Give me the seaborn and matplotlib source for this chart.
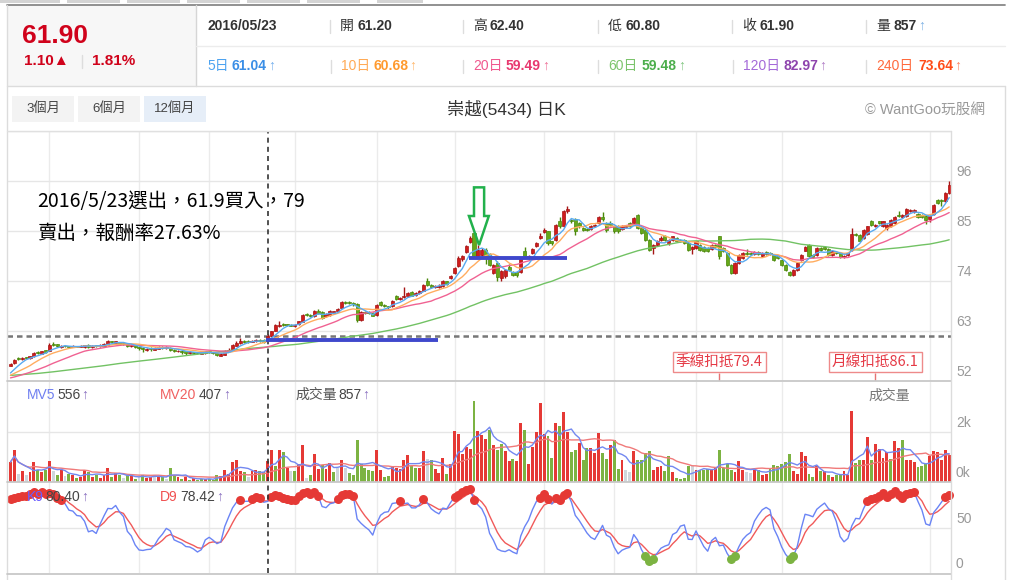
import numpy as np
import pandas as pd
import matplotlib
matplotlib.use("Agg")
import matplotlib.pyplot as plt
from matplotlib.lines import Line2D
from matplotlib.patches import Rectangle, Polygon
from matplotlib.transforms import offset_copy
import seaborn as sns

sns.set_theme(style="white")
plt.rcParams['font.family'] = ['Liberation Sans', 'Noto Sans CJK TC', 'DejaVu Sans']

W, H = 1010, 580

# ---- daily candles (left to right) ----
opens = [55.4,55.9,56.9,56.8,57.0,57.0,57.4,58.4,58.0,58.8,
         58.6,60.0,60.1,59.4,59.6,59.7,59.5,59.7,59.5,59.4,
         60.0,59.4,59.9,59.6,59.8,60.0,60.8,60.4,60.6,60.2,
         60.2,59.6,59.9,59.2,59.3,58.9,59.2,58.9,59.1,59.5,
         59.2,59.3,58.9,58.5,58.7,58.5,58.1,58.3,58.3,58.0,
         58.2,58.5,58.3,58.1,57.6,57.8,58.5,58.9,59.8,60.3,
         60.9,60.6,60.6,60.7,61.1,61.0,61.2,61.8,63.0,64.0,
         64.5,64.5,64.4,64.1,64.6,65.0,66.7,66.5,66.2,67.4,
         67.2,66.2,66.5,67.0,67.5,68.1,69.4,69.3,69.1,68.9,
         65.4,67.2,67.1,67.0,66.5,69.3,68.7,68.4,68.4,70.8,
         70.0,70.4,70.6,71.5,70.9,71.4,71.8,73.9,73.1,72.6,
         72.7,72.8,73.9,74.6,75.7,77.2,78.8,80.3,82.6,84.5,
         79.6,79.8,80.9,80.0,75.8,78.0,74.6,75.0,77.1,76.0,
         76.0,76.0,80.5,79.2,80.2,81.7,83.4,84.8,84.9,82.7,
         83.0,87.3,86.0,89.3,87.4,87.6,86.7,85.6,85.5,85.4,
         86.0,86.8,88.0,86.8,86.8,86.0,86.0,85.4,85.8,86.7,
         86.8,88.5,85.6,85.2,83.0,81.2,81.9,83.0,83.9,82.3,
         83.0,83.4,83.0,83.0,82.3,81.0,81.2,81.9,81.5,81.2,
         81.0,82.0,83.8,81.2,80.1,77.5,75.8,77.9,79.0,80.1,
         80.1,79.9,80.4,79.5,80.4,80.1,79.7,79.5,78.6,77.5,
         76.0,75.3,76.4,78.6,80.7,81.9,79.7,79.7,81.2,81.4,
         81.0,79.7,80.4,80.1,79.2,79.8,80.8,84.3,84.1,83.4,
         84.3,87.3,86.0,87.1,86.1,85.6,86.1,86.8,88.5,88.0,
         88.3,89.3,89.2,88.7,88.5,88.3,87.6,88.7,91.8,91.8,
         91.5,93.3]
closes = [55.8,56.6,56.9,57.1,57.0,57.4,58.2,58.1,58.5,58.4,
          60.0,60.0,59.6,59.7,59.6,59.4,59.7,59.5,59.8,59.9,
          59.5,59.7,59.6,59.9,60.2,60.8,60.5,60.7,60.2,60.2,
          59.7,59.9,59.4,59.2,59.0,59.1,59.0,59.2,59.4,59.3,
          59.4,58.9,58.6,58.7,58.4,58.2,58.3,58.2,58.1,58.3,
          58.5,58.3,58.1,57.8,57.9,58.6,58.9,59.9,60.4,60.8,
          60.5,60.6,60.9,61.0,60.8,60.6,61.9,62.9,64.3,64.4,
          64.3,64.3,64.2,64.4,65.1,66.5,66.5,66.4,67.4,67.0,
          65.9,66.7,67.4,67.3,67.8,69.3,69.2,69.1,68.9,65.4,
          67.1,67.0,66.9,66.4,68.7,68.8,68.4,68.2,69.6,70.0,
          70.3,70.7,71.3,70.8,71.3,71.8,73.1,73.1,72.6,72.9,
          73.0,74.0,73.4,75.1,76.8,79.0,79.4,81.6,83.5,79.4,
          80.8,80.9,79.6,77.6,77.5,74.8,76.2,76.4,76.4,75.3,
          75.3,79.0,79.4,79.5,81.0,82.3,83.9,85.2,82.3,82.3,
          86.3,86.0,89.5,89.8,87.1,84.9,86.0,85.2,85.2,86.1,
          86.3,88.0,87.6,85.2,86.3,84.9,84.9,86.1,86.0,86.0,
          87.8,85.6,84.6,83.0,80.8,81.9,82.9,83.4,83.0,83.0,
          83.8,82.7,82.7,82.3,80.8,81.5,82.7,80.8,80.5,80.5,
          81.9,81.5,79.4,80.5,77.5,75.8,77.9,79.7,80.1,79.9,
          79.9,80.4,79.9,80.1,79.9,79.9,78.6,79.0,77.5,76.4,
          75.3,76.4,77.9,79.7,81.4,79.4,79.2,81.2,80.8,81.0,
          79.7,80.7,80.1,79.2,79.6,80.2,84.3,84.1,82.9,85.2,
          86.0,86.3,86.3,86.8,87.1,86.3,87.4,88.0,88.3,88.5,
          89.8,89.6,89.6,88.0,88.0,87.4,88.3,90.7,91.1,91.5,
          93.3,95.1]
highs = [56.0,56.8,57.2,57.3,57.3,57.6,58.4,58.6,58.7,58.9,
         60.3,60.6,60.2,59.9,59.8,59.8,59.9,59.8,60.0,60.0,
         60.1,59.9,60.0,60.1,60.4,61.0,60.8,60.9,60.6,60.4,
         60.3,60.1,60.0,59.5,59.4,59.3,59.4,59.4,59.6,59.6,
         59.6,59.4,59.0,58.9,58.8,58.6,58.5,58.4,58.4,58.5,
         58.7,58.6,58.4,58.2,58.1,58.8,59.2,60.1,60.7,61.4,
         61.1,61.0,61.1,61.3,61.3,61.2,62.4,63.1,64.6,65.3,
         64.7,64.6,64.6,64.6,65.3,66.7,66.9,66.7,67.6,67.9,
         67.4,66.9,67.6,67.5,68.0,69.5,69.6,69.5,69.3,69.1,
         67.3,67.4,67.3,67.2,68.9,69.6,68.9,68.6,69.8,71.0,
         70.5,72.6,71.5,71.7,71.5,72.0,73.3,74.6,73.3,73.1,
         73.3,74.2,74.1,75.4,77.0,79.6,79.7,81.9,84.0,84.8,
         82.0,81.2,81.3,80.2,77.8,78.3,76.5,76.7,77.8,76.3,
         76.3,79.2,81.5,79.8,81.2,82.5,84.6,85.6,85.1,82.9,
         86.5,88.1,89.7,90.6,87.7,87.9,86.9,85.9,85.7,86.3,
         86.5,88.4,89.1,87.0,87.1,86.2,86.3,86.3,86.2,86.9,
         88.1,88.7,85.8,85.4,83.2,82.1,83.1,83.9,84.1,83.2,
         84.0,83.6,83.2,83.2,82.5,81.7,82.9,82.1,81.7,81.4,
         82.1,82.2,84.0,81.4,80.3,77.7,78.1,79.9,80.3,81.1,
         80.3,80.6,80.6,80.3,80.6,80.3,79.9,79.7,78.8,77.7,
         76.2,76.6,78.1,79.9,81.6,82.1,79.9,81.4,81.4,81.6,
         81.2,80.9,80.6,80.3,79.8,80.4,85.6,84.5,84.3,85.4,
         86.2,87.5,86.5,87.3,87.3,86.5,87.6,88.2,89.5,88.7,
         90.0,89.8,89.8,88.9,88.7,88.5,88.5,90.9,92.0,92.0,
         93.5,96.0]
lows = [55.3,55.8,56.6,56.6,56.8,56.9,57.3,57.9,57.9,58.2,
        58.5,59.7,59.4,59.3,59.4,59.3,59.4,59.4,59.4,59.3,
        59.3,59.3,59.5,59.5,59.7,59.9,60.3,60.3,60.0,60.0,
        59.5,59.4,59.2,58.9,58.4,58.7,58.5,58.8,59.0,59.1,
        59.0,58.7,58.4,58.3,57.9,57.8,57.9,58.0,57.9,57.9,
        58.0,58.1,57.9,57.5,57.4,57.7,58.3,58.8,59.7,60.2,
        60.3,60.4,60.5,60.6,60.6,60.4,60.8,61.6,62.9,63.8,
        64.1,64.1,64.0,63.9,64.4,64.9,66.2,66.1,66.0,66.8,
        65.7,66.0,66.3,66.8,67.3,68.0,69.0,68.9,68.6,65.0,
        65.3,66.8,66.7,66.2,66.4,68.6,68.2,67.9,68.3,69.8,
        69.8,70.2,70.5,70.6,70.7,71.2,71.7,72.9,72.4,72.4,
        72.5,72.6,73.2,74.4,75.5,77.0,78.5,80.1,82.4,79.1,
        79.0,79.5,77.8,77.3,75.6,74.0,74.0,74.6,76.1,75.0,
        74.9,75.8,79.1,78.8,80.0,81.5,83.2,84.6,81.9,82.0,
        82.8,85.7,85.8,89.0,86.8,84.2,85.7,84.9,85.0,85.2,
        85.8,86.6,87.3,84.8,86.0,84.6,84.6,85.2,85.6,85.7,
        86.6,85.4,84.4,82.8,80.6,80.0,81.7,82.8,82.8,82.0,
        82.8,82.5,82.5,82.1,80.6,80.0,81.0,80.6,80.3,80.3,
        80.8,81.3,78.8,80.3,77.3,75.6,75.6,77.7,78.8,79.7,
        79.7,79.7,79.7,79.3,79.7,79.7,78.4,78.8,77.3,76.2,
        75.0,75.1,76.2,78.4,80.5,79.2,79.0,79.5,80.6,80.8,
        79.5,79.5,79.9,79.0,79.0,79.6,80.6,83.9,82.7,83.2,
        84.1,86.1,85.8,86.6,85.9,85.2,85.9,86.6,88.1,87.8,
        88.1,89.1,89.0,87.8,87.8,86.6,87.0,88.5,90.9,90.5,
        91.3,93.1]

# closes before the first visible day, estimated from where the MA lines enter on the left
closes_before = [53.0,53.4,53.8,54.1,53.9,53.6,53.2,53.5,53.9,54.2,
                 54.0,53.7,53.4,53.1,52.9,53.2,53.6,53.9,53.7,53.4,
                 53.2,53.5,53.8,53.6,53.3,53.0,53.3,53.6,53.9,53.7,
                 53.4,53.1,53.4,53.6,53.3,53.1,53.4,53.6,53.5,53.2,
                 52.6,52.3,52.0,51.8,51.9,52.2,52.0,51.8,52.1,52.3,
                 52.5,52.7,52.9,53.0,52.9,52.5,53.0,53.5,54.0]

volumes = [800,1270,330,440,300,400,800,490,400,490,
           840,440,300,470,230,330,270,170,200,490,
           400,200,300,170,300,570,200,360,270,170,
           300,230,130,200,300,170,200,270,200,200,
           130,570,300,200,130,200,70,170,70,130,
           130,130,90,300,230,490,330,800,870,440,
           400,200,440,470,440,400,857,1300,630,1290,
           1200,570,440,440,710,1470,170,300,1110,530,
           670,530,760,400,570,890,570,360,270,1670,
           730,570,490,440,1290,470,200,230,630,570,
           530,870,1070,630,570,570,1230,930,870,530,
           360,970,330,730,2030,1910,1110,1400,1330,3230,
           2040,1870,1730,2090,1470,1270,
           1510,1240,840,930,840,2360,2090,710,1400,2000,
           3160,1910,1830,960,2360,2230,2800,2000,1200,1270,
           1560,870,1370,1370,1160,1960,1160,930,1470,1690,
           530,890,470,400,1240,870,870,1160,1240,490,
           600,630,440,1030,400,170,130,170,630,630,
           470,470,470,530,530,570,1290,570,710,490,
           400,830,490,400,360,490,490,300,330,570,
           670,630,710,800,1110,440,330,1200,1030,330,
           200,630,440,440,270,200,300,270,440,270,
           2840,760,870,890,1800,870,1510,1330,970,1200,
           930,1640,1370,1670,890,890,800,600,630,710,
           1030,1240,1200,870,1290,1070]
# volume bar colour: r = up, g = down, n = unchanged
vol_dir = ("rrnrnrrgrg" "rngrngrgrr" "grgrrrgrgn" "grgngrrnrg" "nggrgrgrgg"
           "rgggrrrrrr" "gnrrggrrgr" "grngrrngrr" "grrgnrnggg" "ggggrrggrr"
           "rrrggrrngr" "rrgrrrrrrg" "rrrgrg"
           "grrgrrgrrr" "rrggrgrrgg" "rggrrrggrg" "grnnrggggr" "rrggrggggn"
           "rgggrrgggg" "rrrnnrgrrg" "gggggrrrrg" "grgrgrggrr" "rggrrgrrrr"
           "grrgrrrggg" "rrrrrr")

k_start, d_start = 88, 86          # K9 / D9 where the lines enter on the left
month_starts = [10, 33, 51, 73, 94, 114, 137, 155, 176, 198, 236]
pick_day = 66                       # 2016/05/23
buy_seg = (65.6, 109.7, 61.0)
sell_seg = (117.8, 142.8, 79.0)

o = np.array(opens); c = np.array(closes); h = np.array(highs); l = np.array(lows)
vol = np.array(volumes)
n = len(c)
idx = np.arange(n)

full = pd.Series(closes_before + closes)
ma = {w: full.rolling(w, min_periods=1).mean().values[-n:] for w in (5, 10, 20, 60)}
mv5 = pd.Series(vol).rolling(5, min_periods=1).mean()
mv20 = pd.Series(vol).rolling(20, min_periods=1).mean()

low9 = pd.Series(l).rolling(9, min_periods=1).min().values
high9 = pd.Series(h).rolling(9, min_periods=1).max().values
rsv = (c - low9) / (high9 - low9) * 100
kk, dd = [], []
k, d = k_start, d_start
for r in rsv:
    k = k * 2 / 3 + r / 3
    d = d * 2 / 3 + k / 3
    kk.append(k); dd.append(d)
kk = np.array(kk); dd = np.array(dd)

# ---- layout helpers (pixel coords) ----
X0, STEP = 10.5, 3.895
def fx(px): return px / W
def fy(py): return 1 - py / H
def hline(y, x1, x2, color='#dddddd', lw=1.0):
    fig.add_artist(Line2D([fx(x1), fx(x2)], [fy(y), fy(y)], color=color, lw=lw))
def vline(x, y1, y2, color='#dddddd', lw=1.0):
    fig.add_artist(Line2D([fx(x), fx(x)], [fy(y1), fy(y2)], color=color, lw=lw))
def txt(px, py, s, **kw):
    kw.setdefault('va', 'center')
    return fig.text(fx(px), fy(py), s, **kw)
def panel(top, bottom):
    ax = fig.add_axes([fx(7), fy(bottom), fx(951) - fx(7), fy(top) - fy(bottom)])
    ax.set_xlim((7 - X0) / STEP, (951 - X0) / STEP)
    ax.set_xticks([]); ax.set_yticks([])
    for s in ax.spines.values():
        s.set_visible(False)
    ax.set_facecolor('none')
    for m in month_starts:
        ax.axvline(m, color='#ebebeb', lw=1, zorder=0)
    ax.axvline(pick_day, color='#333333', lw=1.2, ls=(0, (3, 2.5)), zorder=6)
    return ax

fig = plt.figure(figsize=(W / 100, H / 100), dpi=100)
fig.patch.set_facecolor('white')

# ---- header ----
tabs = [(0, 60), (67, 120), (127, 180), (187, 240), (247, 300), (307, 360), (377, 423)]
for a, b in tabs:
    fig.add_artist(Rectangle((fx(a), fy(3)), fx(b - a), 3 / H, color='#d4d4d4', lw=0))
fig.add_artist(Rectangle((fx(7), fy(86)), fx(196 - 7), 81 / H, color='#f7f7f7', lw=0))
hline(5, 7, 1005, '#888888', 1.3)
vline(196, 5, 86, '#d6d6d6')
hline(46, 196, 1005, '#ececec')
hline(86, 7, 1005, '#dcdcdc')
vline(6.5, 5, 580, '#dcdcdc')
vline(1005, 86, 580, '#dcdcdc')

txt(22, 36, '61.90', color='#d0021b', fontsize=19, fontweight='bold')
txt(24, 61, '1.10▲', color='#d0021b', fontsize=11, fontweight='bold')
vline(82, 55, 68, '#dddddd')
txt(92, 61, '1.81%', color='#d0021b', fontsize=11, fontweight='bold')

txt(208, 26, '2016/05/23', color='#333333', fontsize=10, fontweight='bold')
row1 = [(340, '開', '61.20', ''), (473, '高', '62.40', ''), (608, '低', '60.80', ''),
        (742, '收', '61.90', ''), (876, '量', '857', '↑')]
for x, lab, val, arr in row1:
    vline(x - 10, 20, 33, '#dddddd')
    txt(x, 26, lab, color='#333333', fontsize=10)
    txt(x + 17, 26, val, color='#333333', fontsize=10, fontweight='bold')
    if arr:
        txt(x + 42, 26, arr, color='#7fb2e5', fontsize=10)
row2 = [(207, '5日', '61.04', 25, '#4da3f0', '#3a8ee6'),
        (341, '10日', '60.68', 32, '#ffaa55', '#ff9a2e'),
        (473, '20日', '59.49', 33, '#f0588e', '#e8386f'),
        (608, '60日', '59.48', 34, '#7cc46c', '#4cae4c'),
        (743, '120日', '82.97', 40, '#a46ad8', '#8e44ad'),
        (876, '240日', '73.64', 42, '#ff6a3d', '#ff4d1a')]
for x, lab, val, dx, c1, c2 in row2:
    if x > 210:
        vline(x - 10, 60, 73, '#dddddd')
    txt(x, 66, lab, color=c1, fontsize=10)
    txt(x + dx, 66, val, color=c2, fontsize=10, fontweight='bold')
    txt(x + dx + 36, 66, '↑', color=c2, fontsize=10, alpha=0.7)

# toolbar
for (a, b, lab, bg) in [(12, 74, '3個月', '#f3f3f3'), (78, 140, '6個月', '#f3f3f3'),
                        (144, 206, '12個月', '#e6eef8')]:
    fig.add_artist(Rectangle((fx(a), fy(122)), fx(b - a), 26 / H, color=bg, lw=0))
    txt((a + b) / 2, 109, lab, color='#444444', fontsize=9.5, ha='center')
txt(506, 109, '崇越(5434) 日K', color='#333333', fontsize=12.5, ha='center')
txt(985, 110, '© WantGoo玩股網', color='#999999', fontsize=10.5, ha='right')

# ---- price panel ----
ax = panel(131, 381)
ax.set_ylim(52, 107)
for v in (63, 74, 85, 96, 107):
    ax.axhline(v, color='#e6e6e6', lw=1, zorder=0)
ax.axhline(61.9, color='#777777', lw=1.8, ls=(0, (2.2, 1.6)), zorder=1)

up = c > o
face = np.where(up, '#d01c1c', '#66a81a')
edge = np.where(up, '#a51515', '#4a880a')
ax.vlines(idx, l, h, colors=edge, lw=1, zorder=3)
ax.bar(idx, np.maximum(np.abs(c - o), 0.18), bottom=np.minimum(o, c), width=0.8,
       color=face, edgecolor=edge, linewidth=0.5, zorder=4)

ma_colors = {5: '#5aaaf0', 10: '#ffad60', 20: '#f06292', 60: '#72c264'}
for w in (60, 20, 10, 5):
    sns.lineplot(x=idx, y=ma[w], ax=ax, color=ma_colors[w], linewidth=1.0,
                 legend=False, zorder=5)
ax.set_xlabel(''); ax.set_ylabel('')

for x1, x2, y in (buy_seg, sell_seg):
    ax.plot([x1, x2], [y, y], color='#3f48cc', lw=2.8, solid_capstyle='butt', zorder=7)

arrow = Polygon([(119.0, 94.6), (121.6, 94.6), (121.6, 88.3), (122.8, 88.3),
                 (120.3, 81.9), (117.7, 88.3), (119.0, 88.3)],
                closed=True, fill=False, edgecolor='#22b14c', lw=1.8, zorder=8)
ax.add_patch(arrow)

# deduction markers (60 and 20 days back)
for back, lab in ((60, '季線扣抵79.4'), (20, '月線扣抵86.1')):
    xi = n - back
    ax.vlines(xi, 52, 53.8, color='#e57373', lw=1, zorder=6)
    ax.text(xi, 56.2, lab, ha='center', va='center', fontsize=10.5, color='#e53945',
            family=['Noto Sans CJK TC', 'DejaVu Sans'], zorder=7,
            bbox=dict(boxstyle='square,pad=0.22', fc='white', ec='#ee8a8a', lw=1))

lab_tr = offset_copy(ax.get_yaxis_transform(), fig=fig, x=5, y=9, units='dots')
for v in (96, 85, 74, 63, 52):
    ax.text(1, v, str(v), transform=lab_tr, color='#999999', fontsize=10, va='center',
            clip_on=False)

fcjk = ['Noto Sans CJK TC', 'DejaVu Sans']
txt(37, 202, '2016/5/23選出，61.9買入，79', color='#000000', fontsize=14, family=fcjk)
txt(37, 233, '賣出，報酬率27.63%', color='#000000', fontsize=14, family=fcjk)

# ---- volume panel ----
axv = panel(382, 482)
axv.set_ylim(0, 4000)
axv.axhline(2000, color='#e6e6e6', lw=1, zorder=0)
vcol = {'r': '#e53935', 'g': '#7cb342', 'n': '#cfd6dc'}
axv.bar(idx, vol, width=0.75, color=[vcol[ch] for ch in vol_dir], linewidth=0, zorder=3)
sns.lineplot(x=idx, y=mv20.values, ax=axv, color='#f07a7a', linewidth=1.0, legend=False, zorder=4)
sns.lineplot(x=idx, y=mv5.values, ax=axv, color='#7388f0', linewidth=1.0, legend=False, zorder=5)
axv.set_xlabel(''); axv.set_ylabel('')
lab_tr = offset_copy(axv.get_yaxis_transform(), fig=fig, x=5, y=9, units='dots')
for v, s in ((2000, '2k'), (0, '0k')):
    axv.text(1, v, s, transform=lab_tr, color='#999999', fontsize=10, va='center', clip_on=False)

txt(27, 395, 'MV5', color='#6f7ff0', fontsize=10)
txt(57, 395, '556', color='#444444', fontsize=10)
txt(81, 395, '↑', color='#8a70c0', fontsize=10)
txt(160, 395, 'MV20', color='#f06060', fontsize=10)
txt(199, 395, '407', color='#444444', fontsize=10)
txt(223, 395, '↑', color='#8a70c0', fontsize=10)
txt(295, 395, '成交量', color='#555555', fontsize=10)
txt(338, 395, '857', color='#444444', fontsize=10)
txt(362, 395, '↑', color='#8a70c0', fontsize=10)
txt(868, 396, '成交量', color='#777777', fontsize=10)

# ---- KD panel ----
axk = panel(483, 573)
axk.set_ylim(0, 100)
axk.axhline(50, color='#e6e6e6', lw=1, zorder=0)
sns.lineplot(x=idx, y=dd, ax=axk, color='#f05a5a', linewidth=1.0, legend=False, zorder=3)
sns.lineplot(x=idx, y=kk, ax=axk, color='#6a84f5', linewidth=1.0, legend=False, zorder=4)
hot = kk >= 80
cold = kk <= 20
sns.scatterplot(x=idx[hot], y=kk[hot], ax=axk, color='#e53935', s=42, linewidth=0,
                legend=False, zorder=5, clip_on=False)
sns.scatterplot(x=idx[cold], y=kk[cold], ax=axk, color='#7cb342', s=42, linewidth=0,
                legend=False, zorder=5, clip_on=False)
axk.set_xlabel(''); axk.set_ylabel('')
lab_tr = offset_copy(axk.get_yaxis_transform(), fig=fig, x=5, y=9, units='dots')
for v in (50, 0):
    axk.text(1, v, str(v), transform=lab_tr, color='#999999', fontsize=10, va='center', clip_on=False)

txt(27, 497, 'K9', color='#6a5cff', fontsize=10)
txt(45, 497, '80.40', color='#444444', fontsize=10)
txt(81, 497, '↑', color='#8a70c0', fontsize=10)
txt(160, 497, 'D9', color='#f05050', fontsize=10)
txt(180, 497, '78.42', color='#444444', fontsize=10)
txt(216, 497, '↑', color='#8a70c0', fontsize=10)

# panel borders
hline(131, 7, 951, '#e0e0e0')
hline(381, 7, 951, '#c8c8c8', 1.3)
hline(482, 7, 951, '#c8c8c8', 1.3)
hline(573.5, 7, 951, '#c8c8c8', 1.3)
vline(951, 131, 580, '#dcdcdc')

fig.savefig('out.png', dpi=100)
